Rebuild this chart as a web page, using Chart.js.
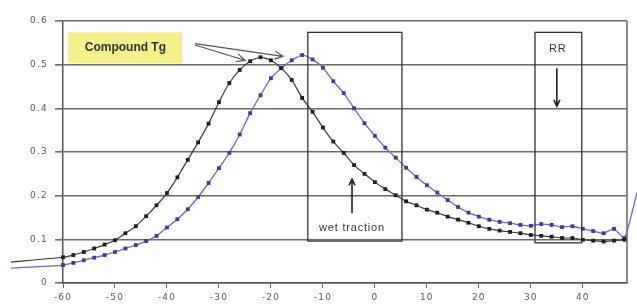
<!DOCTYPE html>
<html>
<head>
<meta charset="utf-8">
<script src="https://cdn.jsdelivr.net/npm/chart.js@4.4.1/dist/chart.umd.min.js"></script>
<style>
  html, body { margin: 0; padding: 0; background: #fff; }
  #wrap { width: 637px; height: 304px; }
</style>
</head>
<body>
<div id="wrap"><canvas id="tgchart"></canvas></div>
<script>
// temperature axis (x) and tan delta values
const tempX = [-60, -58, -56, -54, -52, -50, -48, -46, -44, -42, -40, -38, -36, -34, -32, -30, -28, -26, -24, -22,
  -20, -18, -16, -14, -12, -10, -8, -6, -4, -2, 0, 2, 4, 6, 8, 10, 12, 14, 16, 18,
  20, 22, 24, 26, 28, 30, 32, 34, 36, 38, 40, 42, 44, 46, 48];
const blackTan = [0.059, 0.064, 0.071, 0.079, 0.088, 0.098, 0.114, 0.130, 0.153, 0.178, 0.206, 0.242, 0.282, 0.322, 0.365, 0.414, 0.458, 0.488, 0.508, 0.517,
  0.510, 0.492, 0.465, 0.424, 0.392, 0.356, 0.324, 0.298, 0.270, 0.250, 0.231, 0.215, 0.201, 0.187, 0.178, 0.168, 0.161, 0.152, 0.145, 0.138,
  0.130, 0.124, 0.120, 0.117, 0.114, 0.110, 0.108, 0.106, 0.103, 0.103, 0.099, 0.097, 0.095, 0.097, 0.099];
const blueTan = [0.041, 0.046, 0.052, 0.058, 0.064, 0.071, 0.079, 0.087, 0.096, 0.108, 0.127, 0.146, 0.169, 0.197, 0.229, 0.263, 0.298, 0.340, 0.389, 0.430,
  0.469, 0.492, 0.510, 0.522, 0.512, 0.493, 0.462, 0.435, 0.400, 0.366, 0.337, 0.310, 0.287, 0.264, 0.243, 0.224, 0.207, 0.190, 0.174, 0.161,
  0.152, 0.145, 0.140, 0.137, 0.133, 0.131, 0.135, 0.133, 0.128, 0.130, 0.124, 0.119, 0.114, 0.124, 0.103];
// line stubs drawn outside the plot (no markers)
const leadX = -70;
const blackLead = 0.048;
const blueLead = 0.034;
const blueEndX = 50.4;
const blueEnd = 0.206;
const xTicks = [-60, -50, -40, -30, -20, -10, 0, 10, 20, 30, 40];
const yTicks = [0, 0.1, 0.2, 0.3, 0.4, 0.5, 0.6];

function toPoints(values) {
  return tempX.map(function (x, i) { return { x: x, y: values[i] }; });
}
const blackPts = [{ x: leadX, y: blackLead }].concat(toPoints(blackTan));
const bluePts = [{ x: leadX, y: blueLead }].concat(toPoints(blueTan), [{ x: blueEndX, y: blueEnd }]);

function markerSize(c) {
  const x = c.raw ? c.raw.x : 0;
  return (x < -60 || x > 48) ? 0 : 2.7;
}

// boxes, labels and arrows, placed in data units
const notes = {
  tgBox: { x0: -59, x1: -37.1, y0: 0.574, y1: 0.503 },
  tgText: { x: -48, y: 0.539, text: 'Compound Tg' },
  tgArrows: [{ from: [-34.6, 0.545], to: [-25, 0.51] }, { from: [-34.6, 0.548], to: [-17.7, 0.519] }],
  wetBox: { x0: -12.9, x1: 5.2, y0: 0.574, y1: 0.096 },
  wetText: { x: -4.4, y: 0.127, text: 'wet traction' },
  wetArrow: { from: [-4.4, 0.16], to: [-4.4, 0.238] },
  rrBox: { x0: 30.8, x1: 39.8, y0: 0.574, y1: 0.092 },
  rrText: { x: 35.2, y: 0.535, text: 'RR' },
  rrArrow: { from: [35, 0.492], to: [35, 0.405] }
};

function arrow(ctx, x1, y1, x2, y2, head) {
  const a = Math.atan2(y2 - y1, x2 - x1);
  ctx.beginPath();
  ctx.moveTo(x1, y1);
  ctx.lineTo(x2, y2);
  ctx.moveTo(x2 - head * Math.cos(a - 0.45), y2 - head * Math.sin(a - 0.45));
  ctx.lineTo(x2, y2);
  ctx.lineTo(x2 - head * Math.cos(a + 0.45), y2 - head * Math.sin(a + 0.45));
  ctx.stroke();
}

const notesPlugin = {
  id: 'notes',
  beforeDraw(chart) {
    // the scanned labels are widely spaced
    chart.ctx.letterSpacing = '1.2px';
  },
  beforeDatasetsDraw(chart) {
    const ctx = chart.ctx, xs = chart.scales.x, ys = chart.scales.y, area = chart.chartArea;
    ctx.save();
    // right border of plot
    ctx.strokeStyle = '#666';
    ctx.lineWidth = 1.5;
    ctx.beginPath();
    ctx.moveTo(area.right, area.top);
    ctx.lineTo(area.right, area.bottom);
    ctx.stroke();
    // yellow label box
    const b = notes.tgBox;
    ctx.fillStyle = '#f4f08c';
    ctx.fillRect(xs.getPixelForValue(b.x0), ys.getPixelForValue(b.y0),
      xs.getPixelForValue(b.x1) - xs.getPixelForValue(b.x0), ys.getPixelForValue(b.y1) - ys.getPixelForValue(b.y0));
    ctx.restore();
  },
  afterDatasetsDraw(chart) {
    const ctx = chart.ctx, xs = chart.scales.x, ys = chart.scales.y;
    const px = function (v) { return xs.getPixelForValue(v); };
    const py = function (v) { return ys.getPixelForValue(v); };
    ctx.save();
    ctx.strokeStyle = '#333';
    ctx.lineWidth = 1.3;
    [notes.wetBox, notes.rrBox].forEach(function (b) {
      ctx.strokeRect(px(b.x0), py(b.y0), px(b.x1) - px(b.x0), py(b.y1) - py(b.y0));
    });
    ctx.fillStyle = '#333';
    ctx.textAlign = 'center';
    ctx.textBaseline = 'middle';
    ctx.letterSpacing = '0px';
    ctx.font = 'bold 12px "Liberation Sans", Arial, sans-serif';
    ctx.fillText(notes.tgText.text, px(notes.tgText.x), py(notes.tgText.y));
    ctx.letterSpacing = '0.8px';
    ctx.font = '11px "Liberation Sans", Arial, sans-serif';
    ctx.fillText(notes.wetText.text, px(notes.wetText.x), py(notes.wetText.y));
    ctx.fillText(notes.rrText.text, px(notes.rrText.x), py(notes.rrText.y));
    ctx.strokeStyle = '#555';
    ctx.lineWidth = 1.2;
    notes.tgArrows.forEach(function (a) {
      arrow(ctx, px(a.from[0]), py(a.from[1]), px(a.to[0]), py(a.to[1]), 9);
    });
    ctx.strokeStyle = '#222';
    ctx.lineWidth = 1.6;
    [notes.wetArrow, notes.rrArrow].forEach(function (a) {
      arrow(ctx, px(a.from[0]), py(a.from[1]), px(a.to[0]), py(a.to[1]), 7);
    });
    ctx.restore();
  }
};

new Chart(document.getElementById('tgchart'), {
  type: 'line',
  data: {
    datasets: [{
      label: 'black',
      data: blackPts,
      borderColor: '#3a3a3a',
      borderWidth: 1.2,
      pointStyle: 'rect',
      pointRadius: markerSize,
      pointBackgroundColor: '#1e1e1e',
      pointBorderColor: '#1e1e1e',
      pointBorderWidth: 0,
      tension: 0.2,
      clip: false
    }, {
      label: 'blue',
      data: bluePts,
      borderColor: '#6a6ac4',
      borderWidth: 1.3,
      pointStyle: 'rect',
      pointRadius: markerSize,
      pointBackgroundColor: '#3c3c96',
      pointBorderColor: '#3c3c96',
      pointBorderWidth: 0,
      tension: 0.2,
      clip: false
    }]
  },
  options: {
    responsive: true,
    maintainAspectRatio: false,
    animation: false,
    layout: { padding: { left: 0, right: 10, top: 21, bottom: 0 } },
    plugins: { legend: { display: false }, tooltip: { enabled: false } },
    scales: {
      x: {
        type: 'linear',
        min: -60,
        max: 48.5,
        afterBuildTicks: function (scale) { scale.ticks = xTicks.map(function (v) { return { value: v }; }); },
        afterFit: function (scale) { scale.height = 21; },
        grid: { display: true, drawOnChartArea: false, drawTicks: true, tickLength: 5, color: '#666' },
        border: { display: true, color: '#555', width: 1.5 },
        ticks: { color: '#5a5a5a', padding: 4, maxRotation: 0, font: { size: 9, family: '"DejaVu Sans", Arial, sans-serif' } }
      },
      y: {
        min: 0,
        max: 0.6,
        afterBuildTicks: function (scale) { scale.ticks = yTicks.map(function (v) { return { value: v }; }); },
        afterFit: function (scale) { scale.width = 63; },
        grid: { color: '#6a6a6a', lineWidth: 1.6, tickLength: 8 },
        border: { display: true, color: '#555', width: 1.5 },
        ticks: {
          color: '#5a5a5a', padding: 7,
          font: { size: 9, family: '"DejaVu Sans", Arial, sans-serif' },
          callback: function (v) { return v === 0 ? '0' : v.toFixed(1); }
        }
      }
    }
  },
  plugins: [notesPlugin]
});
</script>
</body>
</html>
